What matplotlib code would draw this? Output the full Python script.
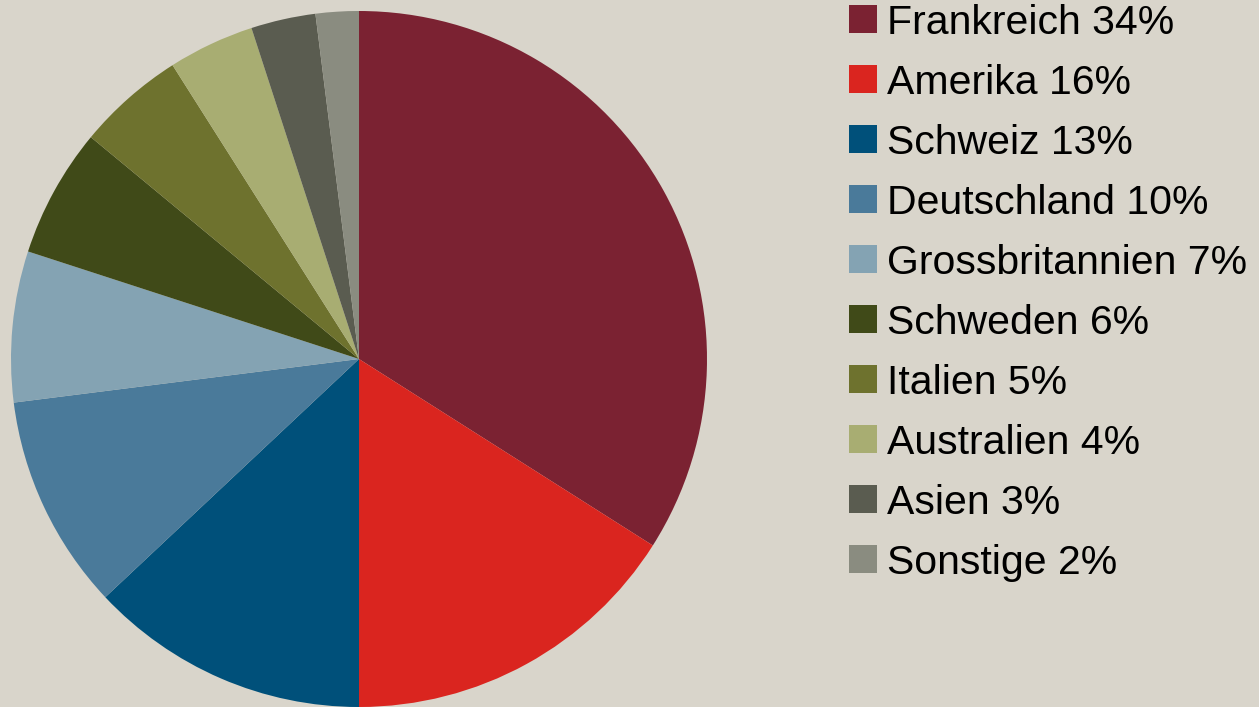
import matplotlib.pyplot as plt
from matplotlib.patches import Rectangle

# data
countries = ["Frankreich", "Amerika", "Schweiz", "Deutschland", "Grossbritannien",
             "Schweden", "Italien", "Australien", "Asien", "Sonstige"]
shares = [34, 16, 13, 10, 7, 6, 5, 4, 3, 2]
colors = ["#7B2232", "#DA251F", "#00507A", "#4A7A9A", "#84A3B3",
          "#404A18", "#6E722E", "#A8AD72", "#5A5C50", "#8A8C80"]

bg = "#D9D5CB"
W, H = 1259, 707

fig = plt.figure(figsize=(W / 100, H / 100), dpi=100, facecolor=bg)

# pie centre at (359, 359) px, radius 348 px
cx, cy, r = 359, 359, 348
ax = fig.add_axes([(cx - r) / W, (H - cy - r) / H, 2 * r / W, 2 * r / H])
ax.set_facecolor(bg)
ax.pie(shares, colors=colors, startangle=90, counterclock=False, radius=1,
       wedgeprops=dict(linewidth=0))
ax.set_xlim(-1, 1)
ax.set_ylim(-1, 1)
ax.set_aspect("equal")
ax.axis("off")

# legend drawn by hand
for i, (name, val, col) in enumerate(zip(countries, shares, colors)):
    yc = 19 + 60 * i
    fig.add_artist(Rectangle((849 / W, (H - yc - 14) / H), 28 / W, 28 / H,
                             transform=fig.transFigure, facecolor=col,
                             edgecolor="none"))
    fig.text(887 / W, (H - yc) / H, f"{name} {val}%", fontsize=29.5,
             family="Liberation Sans", va="center_baseline", ha="left",
             color="black")

fig.savefig("out.png", dpi=100, facecolor=bg)
